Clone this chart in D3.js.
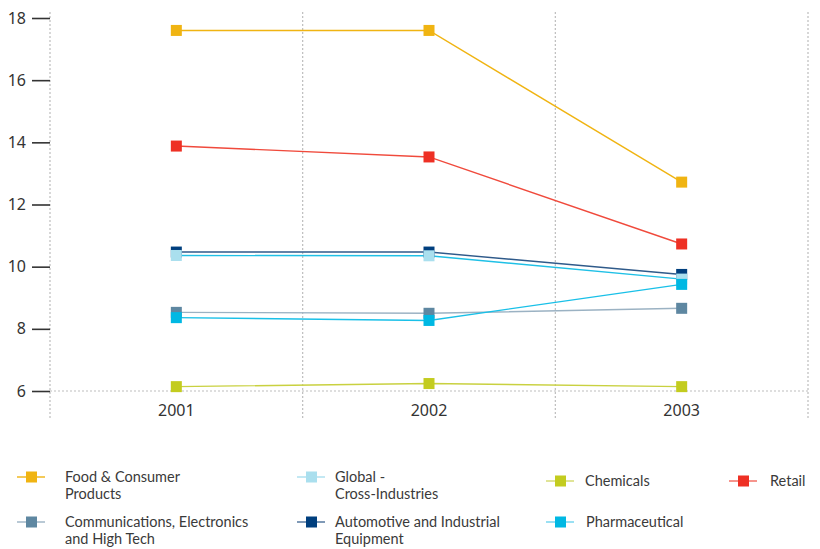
<!DOCTYPE html>
<html>
<head>
<meta charset="utf-8">
<script src="https://cdn.jsdelivr.net/npm/d3@7"></script>
<style>
  html, body { margin: 0; padding: 0; background: #fff; }
  svg { display: block; font-family: "Noto Sans", "Open Sans", sans-serif; }
</style>
</head>
<body>
<svg id="chart" width="820" height="549"></svg>
<script>
// Years on the x axis
const years = ["2001", "2002", "2003"];
// Y axis ticks
const yTicks = [6, 8, 10, 12, 14, 16, 18];

// Series values, one per year
const foodConsumer   = [17.6, 17.6, 12.72];
const commElectronic = [8.53, 8.5, 8.66];
const automotive     = [10.47, 10.47, 9.75];
const globalCross    = [10.36, 10.35, 9.6];
const chemicals      = [6.14, 6.24, 6.14];
const pharmaceutical = [8.36, 8.27, 9.43];
const retail         = [13.88, 13.53, 10.73];

// Series names (legend text lines)
const seriesNames = {
  food: ["Food & Consumer", "Products"],
  comm: ["Communications, Electronics", "and High Tech"],
  global: ["Global -", "Cross-Industries"],
  auto: ["Automotive and Industrial", "Equipment"],
  chem: ["Chemicals"],
  pharma: ["Pharmaceutical"],
  retail: ["Retail"]
};

const series = [
  { key: "food",   values: foodConsumer,   color: "#f0b412", line: "#f0b412", legendLine: "#f0b412" },
  { key: "comm",   values: commElectronic, color: "#5e87a1", line: "#9bb2c3", legendLine: "#9bb2c3" },
  { key: "auto",   values: automotive,     color: "#003f7e", line: "#2f5a8a", legendLine: "#4a6f98" },
  { key: "global", values: globalCross,    color: "#aadfee", line: "#1fc0e6", legendLine: "#aadfee" },
  { key: "chem",   values: chemicals,      color: "#c3cc1f", line: "#c9d140", legendLine: "#d3d96a" },
  { key: "pharma", values: pharmaceutical, color: "#00b8e3", line: "#19c0e8", legendLine: "#6fd3ee" },
  { key: "retail", values: retail,         color: "#ee3024", line: "#f04a3c", legendLine: "#f2675c" }
];

const svg = d3.select("#chart");

const x = d3.scaleBand().domain(years).range([50, 808]);
const y = d3.scaleLinear().domain([6, 18]).range([391, 18]);

const grid = "#bdbdbd";

// Vertical dotted separators at band edges
const edges = years.map(d => x(d)).concat([x.range()[1]]);
svg.append("g").selectAll("line").data(edges).join("line")
  .attr("x1", d => d).attr("x2", d => d)
  .attr("y1", 12).attr("y2", 418)
  .attr("stroke", grid).attr("stroke-width", 1.2)
  .attr("stroke-dasharray", "2,2");

// Horizontal dotted baseline
svg.append("line")
  .attr("x1", 50).attr("x2", 808)
  .attr("y1", y(6)).attr("y2", y(6))
  .attr("stroke", grid).attr("stroke-width", 1.2)
  .attr("stroke-dasharray", "2,2");

// Y axis ticks and labels
const yAxis = d3.axisLeft(y).tickValues(yTicks).tickSize(18).tickPadding(6).tickFormat(d3.format("d"));
const yg = svg.append("g").attr("transform", "translate(50,0)").call(yAxis);
yg.select(".domain").remove();
yg.selectAll(".tick line").attr("stroke", "#333").attr("stroke-width", 1.6);
yg.selectAll(".tick text").attr("fill", "#333").attr("font-size", 16)
  .attr("font-family", "'Noto Sans', sans-serif");

// X axis labels
const xAxis = d3.axisBottom(x).tickSize(0).tickPadding(14);
const xg = svg.append("g").attr("transform", `translate(0,${y(6)})`).call(xAxis);
xg.select(".domain").remove();
xg.selectAll(".tick text").attr("fill", "#333").attr("font-size", 16)
  .attr("font-family", "'Noto Sans', sans-serif");

const cx = d => x(d) + x.bandwidth() / 2;
const line = d3.line().x((v, i) => cx(years[i])).y(v => y(v));

// Lines
svg.append("g").selectAll("path").data(series).join("path")
  .attr("d", s => line(s.values))
  .attr("fill", "none")
  .attr("stroke", s => s.line)
  .attr("stroke-width", 1.4);

// Square markers
const m = 11;
series.forEach(s => {
  svg.append("g").selectAll("rect").data(s.values).join("rect")
    .attr("x", (v, i) => cx(years[i]) - m / 2)
    .attr("y", v => y(v) - m / 2)
    .attr("width", m).attr("height", m)
    .attr("fill", s.color);
});

// Legend
const legendLayout = [
  { key: "food",   x: 17,  y: 477, tx: 48 },
  { key: "global", x: 297, y: 477, tx: 38 },
  { key: "chem",   x: 546, y: 481, tx: 39 },
  { key: "retail", x: 729, y: 481, tx: 41 },
  { key: "comm",   x: 17,  y: 522, tx: 48 },
  { key: "auto",   x: 297, y: 522, tx: 38 },
  { key: "pharma", x: 546, y: 522, tx: 40 }
];
const lg = svg.append("g");
legendLayout.forEach(l => {
  const s = series.find(d => d.key === l.key);
  const g = lg.append("g").attr("transform", `translate(${l.x},${l.y})`);
  g.append("line").attr("x1", 0).attr("x2", 28).attr("y1", 0).attr("y2", 0)
    .attr("stroke", s.legendLine).attr("stroke-width", 1.4);
  g.append("rect").attr("x", 9).attr("y", -5.5).attr("width", 11).attr("height", 11)
    .attr("fill", s.color);
  const names = seriesNames[l.key];
  names.forEach((n, i) => {
    g.append("text")
      .attr("x", l.tx)
      .attr("y", (names.length > 1 ? 5 + i * 17 : 5))
      .attr("fill", "#3a3a3a")
      .attr("font-family", "Lato, sans-serif")
      .attr("font-size", 14.5)
      .text(n);
  });
});
</script>
</body>
</html>
